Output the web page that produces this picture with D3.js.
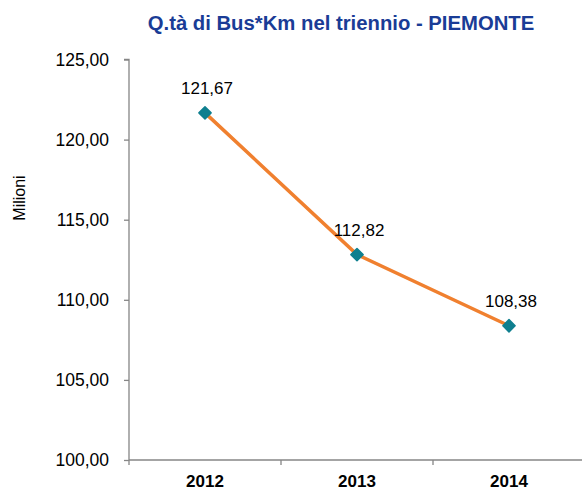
<!DOCTYPE html>
<html>
<head>
<meta charset="utf-8">
<script src="https://cdn.jsdelivr.net/npm/d3@7"></script>
<style>
  body { margin: 0; background: #fff; }
  svg { font-family: "Liberation Sans", Arial, sans-serif; }
</style>
</head>
<body>
<svg id="chart" width="582" height="490"></svg>
<script>
const years = ["2012", "2013", "2014"];
const values = [121.67, 112.82, 108.38];
const yTicks = [100, 105, 110, 115, 120, 125];

const w = 582, h = 490;
const margin = { top: 59.5, right: -3, bottom: 30, left: 129 };

const svg = d3.select("#chart");
const fmt = v => d3.format(".2f")(v).replace(".", ",");

const x = d3.scaleBand()
  .domain(years)
  .range([margin.left, w - margin.right]);

const y = d3.scaleLinear()
  .domain([100, 125])
  .range([h - margin.bottom, margin.top]);

svg.append("text")
  .attr("x", 341)
  .attr("y", 30)
  .attr("text-anchor", "middle")
  .attr("font-weight", "bold")
  .attr("font-size", 20.3)
  .attr("fill", "#1a3c96")
  .text("Q.tà di Bus*Km nel triennio - PIEMONTE");

svg.append("text")
  .attr("transform", "translate(25,198) rotate(-90)")
  .attr("text-anchor", "middle")
  .attr("font-size", 16)
  .attr("fill", "#000")
  .text("Milioni");

// y axis
const yAxis = svg.append("g")
  .attr("transform", `translate(${margin.left},0)`)
  .call(d3.axisLeft(y).tickValues(yTicks).tickFormat(fmt).tickSize(5).tickPadding(15));
yAxis.selectAll("path, line").attr("stroke", "#868686").attr("stroke-width", 1.3);
yAxis.selectAll("text").attr("font-size", 17.5).attr("fill", "#000").attr("font-family", "Liberation Sans, Arial, sans-serif");
yAxis.select(".domain").attr("d", `M-5,${y(125)}H0V${y(100)}`);

// x axis
const xAxis = svg.append("g")
  .attr("transform", `translate(0,${y(100)})`);
xAxis.append("line")
  .attr("x1", margin.left).attr("x2", w - margin.right)
  .attr("stroke", "#868686").attr("stroke-width", 1.3);
xAxis.selectAll(".tick")
  .data(years.concat(["end"]))
  .join("line")
  .attr("x1", (d, i) => margin.left + i * x.bandwidth())
  .attr("x2", (d, i) => margin.left + i * x.bandwidth())
  .attr("y1", 0).attr("y2", 5)
  .attr("stroke", "#868686").attr("stroke-width", 1.3);
xAxis.selectAll("text")
  .data(years)
  .join("text")
  .attr("x", d => x(d) + x.bandwidth() / 2)
  .attr("y", 27)
  .attr("text-anchor", "middle")
  .attr("font-weight", "bold")
  .attr("font-size", 17)
  .attr("fill", "#000")
  .text(d => d);

const pts = years.map((d, i) => ({ year: d, value: values[i] }));

const line = d3.line()
  .x(d => x(d.year) + x.bandwidth() / 2)
  .y(d => y(d.value));

svg.append("path")
  .datum(pts)
  .attr("fill", "none")
  .attr("stroke", "#f0802f")
  .attr("stroke-width", 3.5)
  .attr("d", line);

svg.selectAll(".pt")
  .data(pts)
  .join("path")
  .attr("class", "pt")
  .attr("transform", d => `translate(${x(d.year) + x.bandwidth() / 2},${y(d.value)})`)
  .attr("d", d3.symbol(d3.symbolDiamond2, 95))
  .attr("fill", "#0f7f8f")
  .attr("stroke", "#0f7f8f")
  .attr("stroke-width", 1.5)
  .attr("stroke-linejoin", "round");

svg.selectAll(".lbl")
  .data(pts)
  .join("text")
  .attr("class", "lbl")
  .attr("x", d => x(d.year) + x.bandwidth() / 2 + 2)
  .attr("y", d => y(d.value) - 19)
  .attr("text-anchor", "middle")
  .attr("font-size", 17)
  .attr("fill", "#000")
  .text(d => fmt(d.value));
</script>
</body>
</html>
